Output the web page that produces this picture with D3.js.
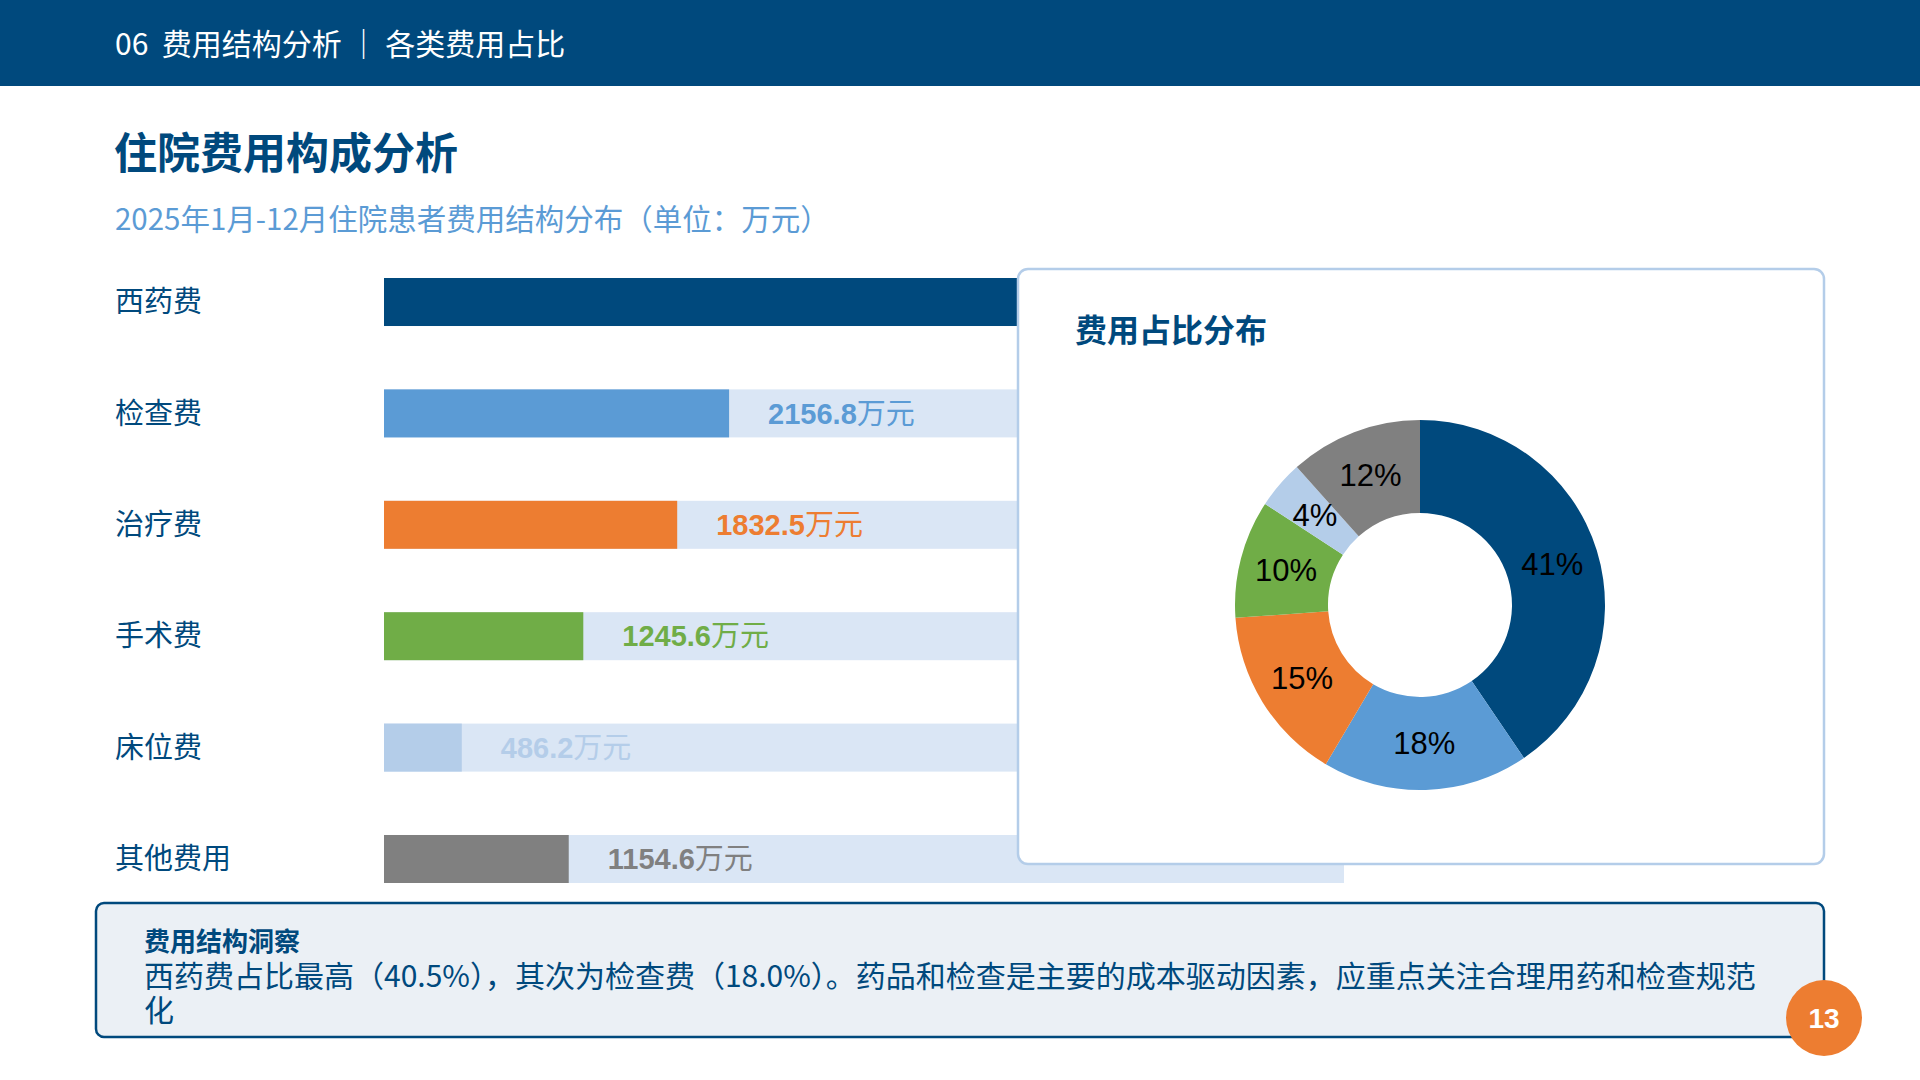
<!DOCTYPE html>
<meta charset="utf-8">
<style>
    body { margin: 0; background: #fff; }
    svg { display: block; }
    .cjk { font-family: "Noto Sans CJK SC", "Noto Sans", sans-serif; }
    .num { font-family: "Liberation Sans", Arial, sans-serif; }
</style>
<script src="https://cdn.jsdelivr.net/npm/d3@7/dist/d3.min.js"></script>
<body>
<svg></svg>
</body>
<script>

    // bar data (万元)
    var categories = ['西药费', '检查费', '治疗费', '手术费', '床位费', '其他费用'];
    var amounts = [4852.8, 2156.8, 1832.5, 1245.6, 486.2, 1154.6];
    var colors = ['#00497d', '#5b9bd5', '#ed7d31', '#70ad47', '#b4cde9', '#808080'];
    // pie shares (%)
    var shares = [40.5, 18.0, 15.4, 10.3, 4.2, 11.6];
    var insightLines = [
        '西药费占比最高（40.5%），其次为检查费（18.0%）。药品和检查是主要的成本驱动因素，应重点关注合理用药和检查规范',
        '化'
    ];

    var dark = '#00497d';
    var svg = d3.select('svg').attr('width', 1920).attr('height', 1080);

    // header
    svg.append('rect').attr('width', 1920).attr('height', 86).attr('fill', dark);
    svg.append('text').attr('class', 'cjk')
            .attr('x', 115).attr('y', 44).attr('dy', '0.35em')
            .attr('fill', '#fff').attr('font-size', 30)
            .attr('xml:space', 'preserve')
            .text('06  费用结构分析 ｜ 各类费用占比');

    svg.append('text').attr('class', 'cjk')
            .attr('x', 114).attr('y', 154).attr('dy', '0.35em')
            .attr('fill', dark).attr('font-size', 43).attr('font-weight', 'bold')
            .text('住院费用构成分析');

    svg.append('text').attr('class', 'cjk')
            .attr('x', 115).attr('y', 220).attr('dy', '0.35em')
            .attr('fill', '#5b9bd5').attr('font-size', 29.5)
            .text('2025年1月-12月住院患者费用结构分布（单位：万元）');

    // bars
    var x = d3.scaleLinear().domain([0, 6000]).range([384, 1344]);
    var y = d3.scaleBand().domain(categories).range([278, 883]).paddingInner(0.569).paddingOuter(0);
    var bh = y.bandwidth();

    var rows = svg.append('g').selectAll('g').data(categories).join('g')
            .attr('transform', function (d) { return 'translate(0,' + y(d) + ')'; });

    rows.append('rect').attr('x', x(0)).attr('width', x(6000) - x(0))
            .attr('height', bh).attr('fill', '#dae6f5');
    rows.append('rect').attr('x', x(0))
            .attr('width', function (d, i) { return x(amounts[i]) - x(0); })
            .attr('height', bh).attr('fill', function (d, i) { return colors[i]; });
    rows.append('text').attr('class', 'cjk')
            .attr('x', 115).attr('y', bh / 2).attr('dy', '0.35em')
            .attr('fill', dark).attr('font-size', 29)
            .text(function (d) { return d; });

    var lbl = rows.append('text')
            .attr('x', function (d, i) { return x(amounts[i]) + 39; })
            .attr('y', bh / 2).attr('dy', '0.35em')
            .attr('fill', function (d, i) { return colors[i]; })
            .attr('font-size', 29);
    lbl.append('tspan').attr('class', 'num').attr('font-weight', 'bold')
            .text(function (d, i) { return amounts[i].toFixed(1); });
    lbl.append('tspan').attr('class', 'cjk').text('万元');

    // pie card
    svg.append('rect').attr('x', 1018).attr('y', 269).attr('width', 806).attr('height', 595)
            .attr('rx', 10).attr('fill', '#fff').attr('stroke', '#b4cde9').attr('stroke-width', 2.5);
    svg.append('text').attr('class', 'cjk')
            .attr('x', 1075).attr('y', 331).attr('dy', '0.35em')
            .attr('fill', dark).attr('font-size', 32).attr('font-weight', 'bold')
            .text('费用占比分布');

    var pie = d3.pie().sort(null).value(function (d) { return d; });
    var arc = d3.arc().innerRadius(92).outerRadius(185);
    var pg = svg.append('g').attr('transform', 'translate(1420,605)');
    var arcs = pie(shares);
    pg.selectAll('path').data(arcs).join('path')
            .attr('d', arc).attr('fill', function (d, i) { return colors[i]; });
    pg.selectAll('text').data(arcs).join('text').attr('class', 'num')
            .attr('transform', function (d) { return 'translate(' + arc.centroid(d) + ')'; })
            .attr('dy', '0.35em').attr('text-anchor', 'middle')
            .attr('font-size', 31).attr('fill', '#000')
            .text(function (d) { return Math.round(d.data) + '%'; });

    // insight box
    svg.append('rect').attr('x', 96).attr('y', 903).attr('width', 1728).attr('height', 134)
            .attr('rx', 8).attr('fill', '#ebf0f5').attr('stroke', dark).attr('stroke-width', 2.5);
    svg.append('text').attr('class', 'cjk')
            .attr('x', 144).attr('y', 942).attr('dy', '0.35em')
            .attr('fill', dark).attr('font-size', 26).attr('font-weight', 'bold')
            .text('费用结构洞察');
    svg.append('g').selectAll('text').data(insightLines).join('text').attr('class', 'cjk')
            .attr('x', 144).attr('y', function (d, i) { return 976 + i * 34; }).attr('dy', '0.35em')
            .attr('fill', dark).attr('font-size', 30)
            .text(function (d) { return d; });

    // page number
    svg.append('circle').attr('cx', 1824).attr('cy', 1018).attr('r', 38).attr('fill', '#ed7d31');
    svg.append('text').attr('class', 'num')
            .attr('x', 1824).attr('y', 1018).attr('dy', '0.35em').attr('text-anchor', 'middle')
            .attr('fill', '#fff').attr('font-size', 28).attr('font-weight', 'bold')
            .text('13');

</script>
